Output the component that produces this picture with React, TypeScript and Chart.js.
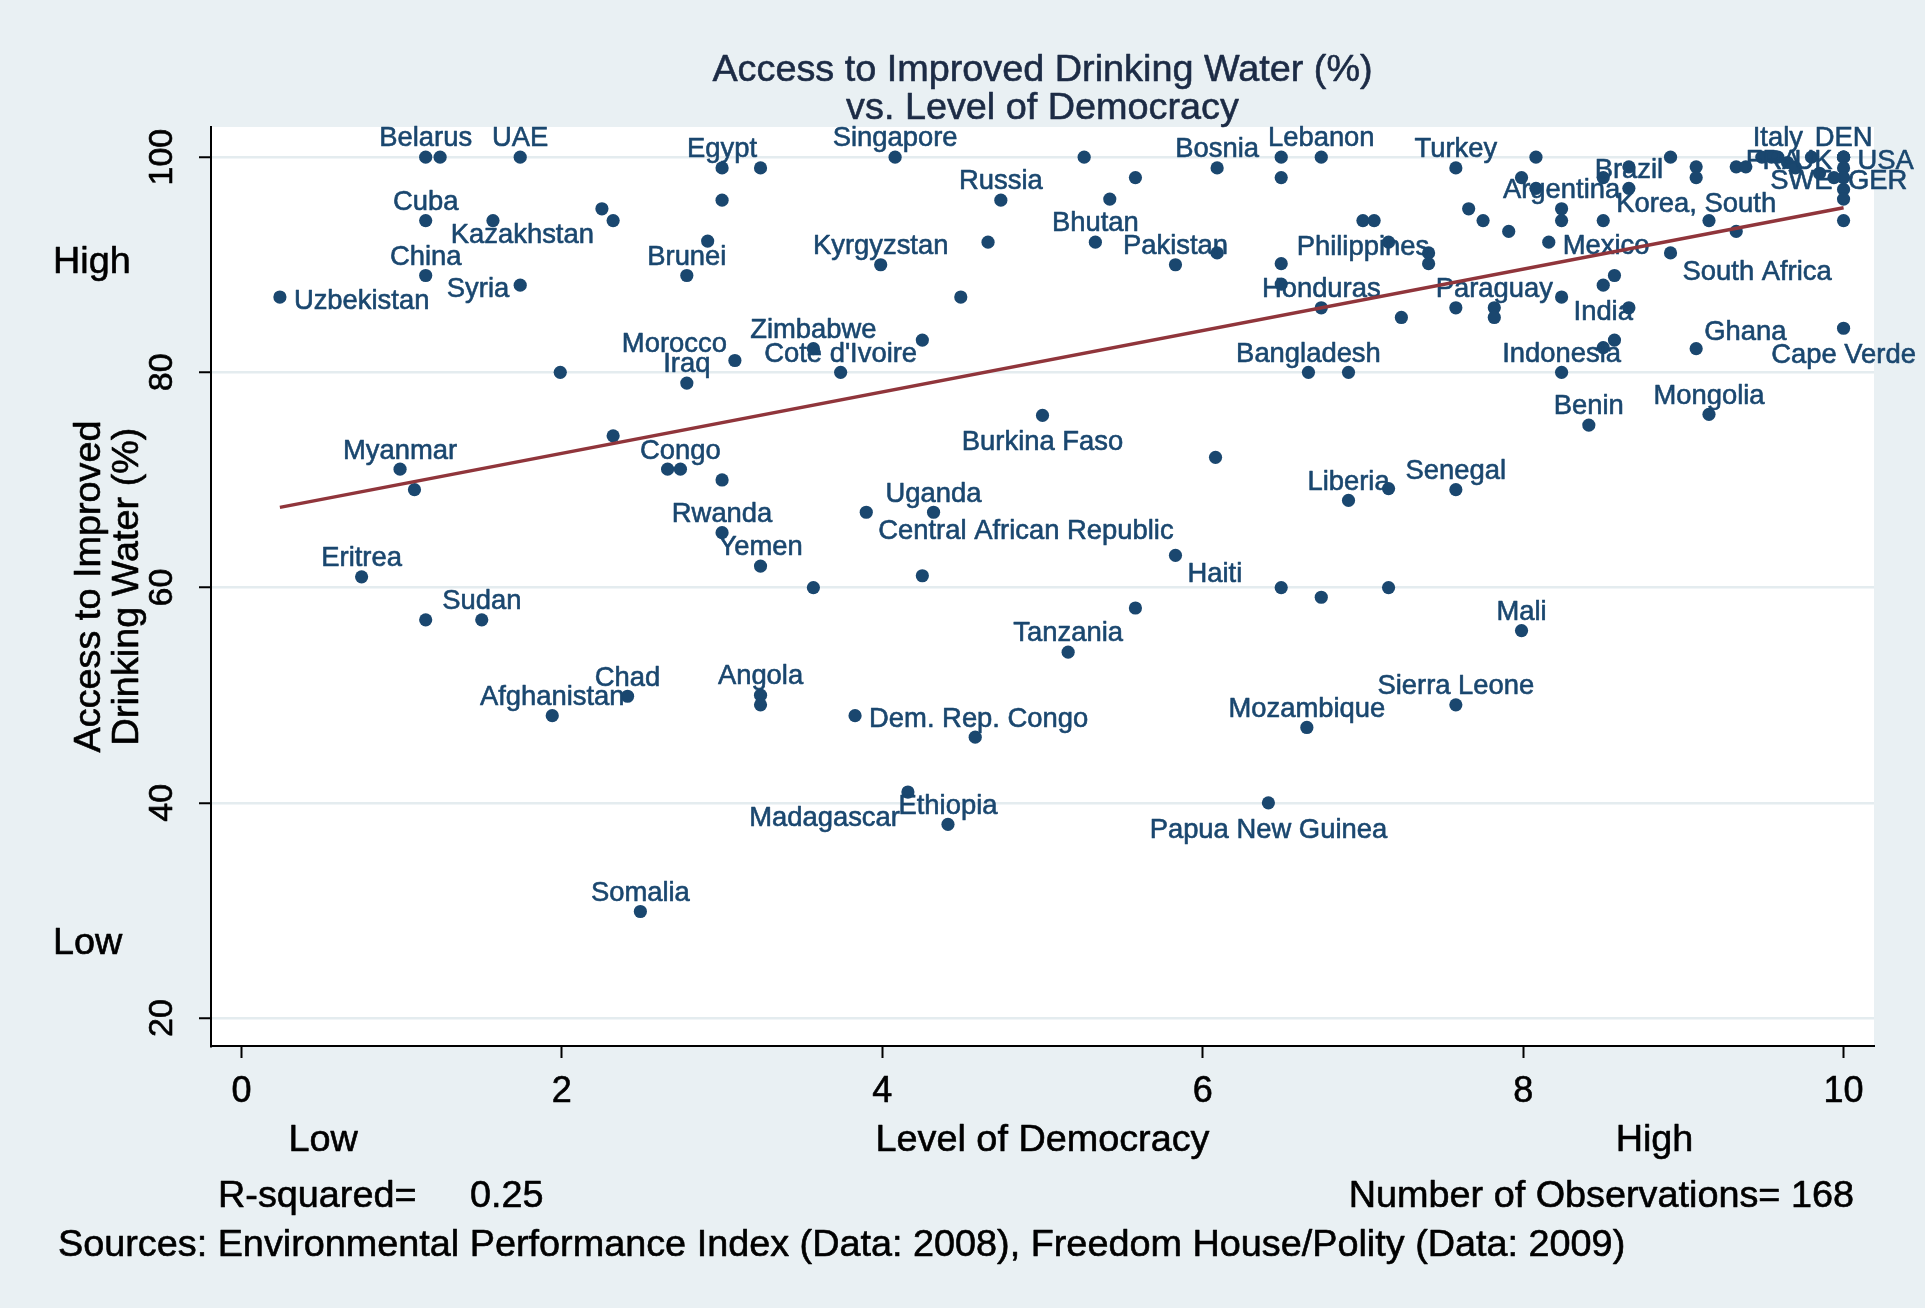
import React, { useEffect, useRef } from "react";
import { Chart, registerables } from "chart.js";

Chart.register(...registerables);

// ---------------- DATA ----------------
const countryLabels: string[] = [
  "Belarus", "", "UAE", "Cuba", "", "Kazakhstan", "", "China", "Syria", "Uzbekistan",
  "", "Egypt", "", "", "", "Brunei", "Singapore", "", "Russia", "",
  "Kyrgyzstan", "", "", "Zimbabwe", "Cote d'Ivoire", "Morocco", "Iraq", "Burkina Faso", "", "",
  "Bosnia", "", "Lebanon", "", "Bhutan", "Pakistan", "", "", "", "Honduras",
  "Philippines", "", "", "", "", "Turkey", "", "", "", "",
  "", "", "Paraguay", "", "Bangladesh", "", "", "", "Argentina", "",
  "", "", "", "Brazil", "", "", "Korea, South", "", "", "South Africa",
  "Mexico", "", "India", "", "", "", "", "Indonesia", "Ghana", "Cape Verde",
  "", "", "", "Benin", "Mongolia", "Myanmar", "", "", "Eritrea", "",
  "Sudan", "Afghanistan", "Chad", "", "Congo", "", "Rwanda", "Yemen", "", "Central African Republic",
  "Uganda", "", "Angola", "", "Dem. Rep. Congo", "", "Tanzania", "", "Liberia", "",
  "Senegal", "Haiti", "", "", "", "", "Mali", "Sierra Leone", "Mozambique", "Somalia",
  "Madagascar", "Ethiopia", "Papua New Guinea", "", "", "Italy", "FRA", "", "", "",
  "DEN", "USA", "UK", "", "SWE", "GER", "", ""
];

const democracyLevel: number[] = [
  1.15, 1.24, 1.74, 1.15, 1.57, 2.25, 2.32, 1.15, 1.74, 0.24,
  1.99, 3.0, 3.24, 3.0, 2.91, 2.78, 4.08, 5.26, 4.74, 4.66,
  3.99, 4.49, 4.25, 3.57, 3.74, 3.08, 2.78, 5.0, 5.58, 5.42,
  6.09, 6.49, 6.74, 6.49, 5.33, 5.83, 6.09, 6.49, 6.49, 6.74,
  7.0, 7.07, 7.16, 7.41, 7.41, 7.58, 7.99, 7.66, 7.75, 7.91,
  7.24, 7.58, 7.82, 7.82, 6.66, 6.91, 8.08, 8.08, 8.24, 8.24,
  8.5, 8.5, 8.66, 8.66, 8.92, 9.08, 9.08, 9.16, 9.33, 8.92,
  8.16, 8.57, 8.5, 8.66, 8.24, 8.57, 8.5, 8.24, 9.08, 10.0,
  10.0, 9.33, 9.39, 8.41, 9.16, 0.99, 1.08, 2.32, 0.75, 1.15,
  1.5, 1.94, 2.41, 2.66, 2.74, 3.0, 3.0, 3.24, 3.57, 3.9,
  4.32, 4.25, 3.24, 3.24, 3.83, 4.58, 5.16, 6.08, 6.91, 7.16,
  7.58, 5.83, 6.49, 6.74, 7.16, 5.58, 7.99, 7.58, 6.65, 2.49,
  4.16, 4.41, 6.41, 9.49, 9.55, 9.59, 9.8, 9.65, 9.7, 9.85,
  10.0, 10.0, 10.0, 10.0, 10.0, 9.94, 10.0, 10.0
];

const waterAccess: number[] = [
  100, 100, 100, 94.1, 94.1, 95.2, 94.1, 89, 88.1, 87,
  80, 99, 99, 96, 92.2, 89, 100, 100, 96, 92.1,
  90, 87, 83, 82.2, 80, 81.1, 79, 76, 98.1, 96.1,
  99, 100, 100, 98.1, 92.1, 90, 91.1, 90.1, 88.2, 86,
  94.1, 94.1, 92.1, 91.1, 90.1, 99, 98.1, 95.2, 94.1, 93.1,
  85.1, 86, 86, 85.1, 80, 80, 100, 97.1, 95.2, 94.1,
  94.1, 98.1, 99.1, 97.1, 100, 99.1, 98.1, 94.1, 93.1, 91.1,
  92.1, 89, 88.1, 86, 87, 83, 82.3, 80, 82.2, 84.1,
  94.1, 99.1, 99.1, 75.1, 76.1, 71, 69.1, 74.1, 61, 57,
  57, 48.1, 49.9, 71, 71, 70, 65.1, 62, 60, 67,
  67, 61.1, 50, 49.1, 48.1, 46.1, 54, 72.1, 68.1, 69.2,
  69.1, 63, 60, 59.1, 60, 58.1, 56, 49.1, 47, 29.9,
  41, 38, 40, 100, 100, 100, 100, 99.5, 99, 98.5,
  100, 100, 100, 99, 98.1, 98.1, 97, 96.1
];

// clock position of each marker label (0 = no label)
const labelClock: number[] = [
  12, 0, 12, 12, 0, 7, 0, 12, 9, 3,
  0, 12, 0, 0, 0, 12, 12, 0, 12, 0,
  12, 0, 0, 12, 12, 11, 12, 6, 0, 0,
  12, 0, 12, 0, 12, 12, 0, 0, 0, 12,
  6, 0, 0, 0, 0, 12, 0, 0, 0, 0,
  0, 0, 12, 0, 12, 0, 0, 0, 12, 0,
  0, 0, 0, 12, 0, 0, 6, 0, 0, 4,
  3, 0, 6, 0, 0, 0, 0, 12, 1, 6,
  0, 0, 0, 12, 12, 12, 0, 0, 12, 0,
  12, 12, 12, 0, 12, 0, 12, 12, 0, 4,
  12, 0, 12, 0, 3, 0, 12, 0, 12, 0,
  12, 4, 0, 0, 0, 0, 12, 12, 12, 12,
  7, 12, 6, 0, 0, 12, 9, 0, 0, 0,
  12, 3, 9, 0, 9, 3, 0, 0
];

// fitted line
const fitDemocracy: number[] = [0.24, 10];
const fitWater: number[] = [67.45, 95.3];

const xTickValues: number[] = [0, 2, 4, 6, 8, 10];
const yTickValues: number[] = [20, 40, 60, 80, 100];
const xRange: number[] = [-0.19, 10.19];
const yRange: number[] = [17.4, 102.8];
const xBandLabels: string[] = ["Low", "High"];
const xBandValues: number[] = [0.51, 8.82];
const yBandLabels: string[] = ["High", "Low"];
const yBandValues: number[] = [90.46, 27.2];

const titleLines: string[] = ["Access to Improved Drinking Water (%)", "vs. Level of Democracy"];
const yTitleLines: string[] = ["Access to Improved", "Drinking Water (%)"];
const xTitle = "Level of Democracy";
const rSquaredLabel = "R-squared=";
const rSquaredValue = "0.25";
const observationsText = "Number of Observations= 168";
const sourceText =
  "Sources: Environmental Performance Index (Data: 2008), Freedom House/Polity (Data: 2009)";

// ---------------- STYLE ----------------
const W = 1925;
const H = 1308;
const PLOT = { left: 211, top: 127, right: 1874, bottom: 1046 };
const Y_AXIS_W = 40;
const X_AXIS_H = 40;
const FONT = '"Liberation Sans", Arial, Helvetica, sans-serif';
const CAP = 0.716;
const BG = "#e9f0f3";
const GRID = "#e4ecef";
const NAVY = "#1a476f";
const MAROON = "#90353b";
const TITLE_COLOR = "#1c2b45";
const TEXT = "#000000";
const LABEL_SIZE = 27.4;
const BIG_SIZE = 37.8;
const TICK_SIZE = 36;
const YTICK_SIZE = 34;
const TEXT_STROKE = 0.6;

function clockPlace(clock: number, px: number, py: number, w: number) {
  // returns left x and cap-center y of the text
  switch (clock) {
    case 12: return { left: px - w / 2, cy: py - 20.5 };
    case 6: return { left: px - w / 2, cy: py + 25 };
    case 3: return { left: px + 14, cy: py + 2 };
    case 9: return { left: px - 11 - w, cy: py + 2 };
    case 1: return { left: px + 8, cy: py - 18 };
    case 11: return { left: px - 8 - w, cy: py - 18 };
    case 2: return { left: px + 12, cy: py - 8 };
    case 10: return { left: px - 12 - w, cy: py - 8 };
    case 4: return { left: px + 12, cy: py + 17 };
    case 8: return { left: px - 12 - w, cy: py + 17 };
    case 5: return { left: px + 7, cy: py + 24 };
    case 7: return { left: px - 8 - w, cy: py + 24 };
    default: return { left: px - w / 2, cy: py + 2 };
  }
}

function paint(ctx: CanvasRenderingContext2D, s: string, x: number, y: number, color: string) {
  ctx.fillStyle = color;
  ctx.strokeStyle = color;
  ctx.lineWidth = TEXT_STROKE;
  ctx.lineJoin = "round";
  ctx.fillText(s, x, y);
  ctx.strokeText(s, x, y);
}

function text(
  ctx: CanvasRenderingContext2D,
  s: string,
  x: number,
  cy: number,
  size: number,
  align: CanvasTextAlign,
  color: string
) {
  ctx.font = `${size}px ${FONT}`;
  ctx.textAlign = align;
  ctx.textBaseline = "alphabetic";
  paint(ctx, s, x, cy + (CAP * size) / 2, color);
}

function vtext(
  ctx: CanvasRenderingContext2D,
  s: string,
  cx: number,
  y: number,
  size: number,
  color: string
) {
  ctx.save();
  ctx.translate(cx, y);
  ctx.rotate(-Math.PI / 2);
  ctx.font = `${size}px ${FONT}`;
  ctx.textAlign = "center";
  ctx.textBaseline = "alphabetic";
  paint(ctx, s, 0, (CAP * size) / 2, color);
  ctx.restore();
}

const backgroundPlugin = {
  id: "stataBackground",
  beforeDraw(chart: any) {
    const ctx = chart.ctx as CanvasRenderingContext2D;
    const a = chart.chartArea;
    ctx.save();
    ctx.fillStyle = BG;
    ctx.fillRect(0, 0, W, H);
    ctx.fillStyle = "#ffffff";
    ctx.fillRect(a.left, a.top, a.right - a.left, a.bottom - a.top);
    ctx.restore();
  },
};

const markerLabelPlugin = {
  id: "markerLabels",
  afterDatasetDraw(chart: any, args: any) {
    if (args.index !== 1) return;
    const ctx = chart.ctx as CanvasRenderingContext2D;
    const xs = chart.scales.x;
    const ys = chart.scales.y;
    ctx.save();
    ctx.font = `${LABEL_SIZE}px ${FONT}`;
    ctx.textAlign = "left";
    ctx.textBaseline = "alphabetic";
    countryLabels.forEach((name, i) => {
      if (!name || !labelClock[i]) return;
      const px = xs.getPixelForValue(democracyLevel[i]);
      const py = ys.getPixelForValue(waterAccess[i]);
      const w = ctx.measureText(name).width;
      const p = clockPlace(labelClock[i], px, py, w);
      paint(ctx, name, p.left, p.cy + (CAP * LABEL_SIZE) / 2, NAVY);
    });
    ctx.restore();
  },
};

const textPlugin = {
  id: "stataTexts",
  afterDraw(chart: any) {
    const ctx = chart.ctx as CanvasRenderingContext2D;
    const xs = chart.scales.x;
    const ys = chart.scales.y;
    const a = chart.chartArea;
    const mid = (a.left + a.right) / 2;
    ctx.save();
    // title
    text(ctx, titleLines[0], mid, 67, BIG_SIZE, "center", TITLE_COLOR);
    text(ctx, titleLines[1], mid, 105, BIG_SIZE, "center", TITLE_COLOR);
    // x tick labels
    xTickValues.forEach((v) => {
      text(ctx, String(v), xs.getPixelForValue(v), 1089, TICK_SIZE, "center", TEXT);
    });
    // y tick labels (rotated)
    yTickValues.forEach((v) => {
      vtext(ctx, String(v), 160, ys.getPixelForValue(v), YTICK_SIZE, TEXT);
    });
    // band labels
    xBandLabels.forEach((s, i) => {
      text(ctx, s, xs.getPixelForValue(xBandValues[i]), 1137, BIG_SIZE, "center", TEXT);
    });
    yBandLabels.forEach((s, i) => {
      text(ctx, s, 53, ys.getPixelForValue(yBandValues[i]), BIG_SIZE, "left", TEXT);
    });
    // axis titles
    text(ctx, xTitle, mid, 1137, BIG_SIZE, "center", TEXT);
    const ymid = (a.top + a.bottom) / 2;
    vtext(ctx, yTitleLines[0], 86, ymid, BIG_SIZE, TEXT);
    vtext(ctx, yTitleLines[1], 124, ymid, BIG_SIZE, TEXT);
    // notes
    text(ctx, rSquaredLabel, 218, 1193, BIG_SIZE, "left", TEXT);
    text(ctx, rSquaredValue, 470, 1193, BIG_SIZE, "left", TEXT);
    text(ctx, observationsText, 1854, 1193, BIG_SIZE, "right", TEXT);
    text(ctx, sourceText, 58, 1242, BIG_SIZE, "left", TEXT);
    ctx.restore();
  },
};

export default function App() {
  const canvasRef = useRef<HTMLCanvasElement | null>(null);

  useEffect(() => {
    const canvas = canvasRef.current;
    if (!canvas) return;
    const points = democracyLevel.map((x, i) => ({ x, y: waterAccess[i] }));
    const fit = fitDemocracy.map((x, i) => ({ x, y: fitWater[i] }));

    const chart = new Chart(canvas, {
      type: "scatter",
      data: {
        datasets: [
          {
            label: "Fitted values",
            data: fit,
            showLine: true,
            borderColor: MAROON,
            borderWidth: 3.5,
            pointRadius: 0,
            fill: false,
            order: 0,
          } as any,
          {
            label: "Countries",
            data: points,
            backgroundColor: NAVY,
            borderWidth: 0,
            pointRadius: 6.6,
            pointHoverRadius: 6.6,
            order: 1,
          } as any,
        ],
      },
      options: {
        responsive: false,
        animation: false,
        devicePixelRatio: 1,
        events: [],
        layout: {
          padding: {
            left: PLOT.left - Y_AXIS_W,
            top: PLOT.top,
            right: W - PLOT.right,
            bottom: H - PLOT.bottom - X_AXIS_H,
          },
        },
        plugins: {
          legend: { display: false },
          tooltip: { enabled: false },
          title: { display: false },
        },
        scales: {
          x: {
            type: "linear",
            min: xRange[0],
            max: xRange[1],
            afterBuildTicks: (axis: any) => {
              axis.ticks = xTickValues.map((v) => ({ value: v }));
            },
            afterFit: (axis: any) => {
              axis.height = X_AXIS_H;
            },
            ticks: { display: false },
            grid: {
              drawOnChartArea: false,
              drawTicks: true,
              tickLength: 12,
              tickColor: "#000",
              tickWidth: 2,
            },
            border: { display: true, color: "#000", width: 2 },
          },
          y: {
            type: "linear",
            min: yRange[0],
            max: yRange[1],
            afterBuildTicks: (axis: any) => {
              axis.ticks = yTickValues.map((v) => ({ value: v }));
            },
            afterFit: (axis: any) => {
              axis.width = Y_AXIS_W;
            },
            ticks: { display: false },
            grid: {
              drawOnChartArea: true,
              color: GRID,
              lineWidth: 2.5,
              drawTicks: true,
              tickLength: 12,
              tickColor: "#000",
              tickWidth: 2,
            },
            border: { display: true, color: "#000", width: 2 },
          },
        },
      } as any,
      plugins: [backgroundPlugin, markerLabelPlugin, textPlugin],
    });

    return () => chart.destroy();
  }, []);

  return (
    <div style={{ position: "absolute", left: 0, top: 0, width: W, height: H }}>
      <canvas ref={canvasRef} width={W} height={H} style={{ display: "block" }} />
    </div>
  );
}
